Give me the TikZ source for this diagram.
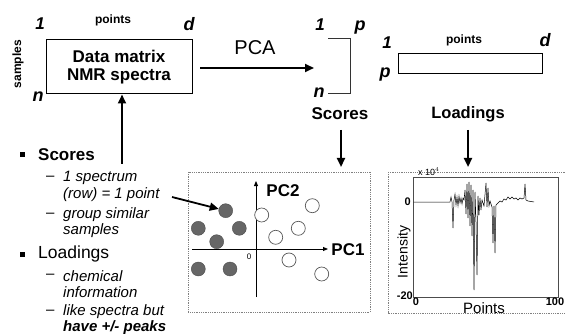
\documentclass[tikz,border=0pt]{standalone}
\usepackage{fontspec}
\setmainfont{Liberation Sans}
\usetikzlibrary{arrows.meta}
\newcommand\fsz[1]{\fontsize{#1}{#1}\selectfont}
\begin{document}
\begin{tikzpicture}[x=1pt,y=-1pt,
  lbl/.style={font=\fsz{18}\bfseries\itshape, inner sep=0},
  num/.style={font=\fsz{17}\bfseries\itshape, inner sep=0},
  big/.style={-{Triangle[length=9pt,width=8pt]}, line width=2.2pt},
  thinarr/.style={-{Triangle[length=5pt,width=4pt]}, line width=0.9pt},
  frame/.style={draw=gray, densely dotted, line width=0.8pt},
  filled/.style={circle, draw=black!70, fill=black!60, minimum size=14pt, inner sep=0},
  open/.style={circle, draw=black!65, fill=white, minimum size=14pt, inner sep=0, line width=0.7pt},
  sub/.style={font=\fsz{15}\itshape, inner sep=0, anchor=west},
  dashmark/.style={font=\fsz{15}, inner sep=0, anchor=west},
]
\useasboundingbox (0,0) rectangle (565,334);
% data matrix
\node[draw, line width=1pt, minimum width=146pt, minimum height=54pt, inner sep=0, align=center,
  font=\fsz{17}\bfseries] (dm) at (119,67) {Data matrix\\[1pt]NMR spectra};
\node[num] (d1) at (40,24) {1};
\node[font=\fsz{12}\bfseries, inner sep=0] (dpts) at (113,20) {points};
\node[lbl] (dd) at (189,24) {d};
\node[lbl] (dn) at (38,97) {n};
\node[font=\fsz{12}\bfseries, inner sep=0, rotate=90] (smp) at (18,64) {samples};
% PCA arrow
\coordinate (pa) at (200,68);
\coordinate (pb) at (314,68);
\draw[big] (pa) -- (pb);
\node[font=\fsz{20}, inner sep=0] (pca) at (255,48) {PCA};
% scores bracket
\coordinate (s1) at (328,39);
\coordinate (s2) at (350,39);
\coordinate (s3) at (350,94);
\coordinate (s4) at (328,94);
\draw[line width=1pt, black!80] (s1) -- (s2) -- (s3) -- (s4);
\node[num] (sc1) at (320,25) {1};
\node[lbl] (scp) at (360,28) {p};
\node[lbl] (scn) at (319,93) {n};
\node[font=\fsz{17}\bfseries, inner sep=0] (scores) at (340,114) {Scores};
% loadings box
\node[draw, line width=1pt, minimum width=144pt, minimum height=20pt, inner sep=0] (lb) at (470,64) {};
\node[num] (lb1) at (387,43) {1};
\node[font=\fsz{12}\bfseries, inner sep=0] (lpts) at (464,40) {points};
\node[lbl] (lbd) at (545,40) {d};
\node[lbl] (lbp) at (385,75) {p};
\node[font=\fsz{16.5}\bfseries, inner sep=0] (loads) at (468,114) {Loadings};
% down arrows
\coordinate (sa) at (341,130);
\coordinate (sb) at (341,167);
\draw[big] (sa) -- (sb);
\coordinate (la) at (468,130);
\coordinate (lbt) at (468,167);
\draw[big] (la) -- (lbt);
% up arrow
\coordinate (ua) at (122,164);
\draw[big] (ua) -- (dm.south -| ua);
% bullets
\node[fill=black, minimum size=5pt, inner sep=0] (b1) at (22,155) {};
\node[font=\fsz{17}\bfseries, inner sep=0, anchor=west] (bs) at (38,155) {Scores};
\node[dashmark] (d11) at (46,178) {--};
\node[sub] (t11) at (63,178) {1 spectrum};
\node[sub] (t12) at (63,195) {(row) = 1 point};
\node[dashmark] (d12) at (46,215) {--};
\node[sub] (t13) at (63,215) {group similar};
\node[sub] (t14) at (63,231) {samples};
\node[fill=black, minimum size=5pt, inner sep=0] (b2) at (22,254) {};
\node[font=\fsz{17.5}, inner sep=0, anchor=west] (bl) at (38,254) {Loadings};
\node[dashmark] (d21) at (46,276) {--};
\node[sub] (t21) at (63,276) {chemical};
\node[sub] (t22) at (63,292) {information};
\node[dashmark] (d22) at (46,312) {--};
\node[sub] (t23) at (63,312) {like spectra but};
\node[sub, font=\fsz{15}\bfseries\itshape] (t24) at (63,328) {have +/- peaks};
% scatter panel
\coordinate (sp1) at (188,172);
\coordinate (sp2) at (370,312);
\draw[frame] (sp1) rectangle (sp2);
\coordinate (ax1) at (256,297);
\coordinate (ax2) at (256,181);
\coordinate (ay1) at (192,249);
\coordinate (ay2) at (328,249);
\draw[thinarr] (ax1) -- (ax2);
\draw[thinarr] (ay1) -- (ay2);
\node[font=\fsz{17}\bfseries, inner sep=0] (pc2) at (283,191) {PC2};
\node[font=\fsz{17}\bfseries, inner sep=0] (pc1) at (348,250) {PC1};
\node[font=\fsz{8}, inner sep=0] (zero) at (249,257) {0};
\node[filled] (f1) at (225.7,210.7) {};
\node[filled] (f2) at (198.3,228.3) {};
\node[filled] (f3) at (239.3,228.3) {};
\node[filled] (f4) at (216.7,241.7) {};
\node[filled] (f5) at (198.3,269) {};
\node[filled] (f6) at (230,269) {};
\node[open] (o1) at (261.7,215) {};
\node[open] (o2) at (312.3,205.7) {};
\node[open] (o3) at (298.3,228.3) {};
\node[open] (o4) at (275.7,237.3) {};
\node[open] (o5) at (289,260) {};
\node[open] (o6) at (321.7,274) {};
\coordinate (pa1) at (172,197);
\draw[-{Triangle[length=9pt,width=8pt]}, line width=1.8pt] (pa1) -- (f1);
% loadings panel
\coordinate (lp1) at (388,172);
\coordinate (lp2) at (566,313);
\draw[frame] (lp1) rectangle (lp2);
\node[draw=black!70, line width=0.8pt, minimum width=145pt, minimum height=120pt, inner sep=0] (lplot) at (486,237.5) {};
\node[font=\fsz{9}, inner sep=0, anchor=west] (x10) at (418,172) {x 10$^{4}$};
\node[font=\fsz{11}\bfseries, inner sep=0, anchor=east] (y0) at (411,202) {0};
\node[font=\fsz{11}\bfseries, inner sep=0, anchor=east] (y20) at (413,296) {-20};
\node[font=\fsz{11}\bfseries, inner sep=0] (xx0) at (416,302) {0};
\node[font=\fsz{11}\bfseries, inner sep=0] (x100) at (555,302) {100};
\node[font=\fsz{15}, inner sep=0] (xpts) at (484,308) {Points};
\node[font=\fsz{14}, inner sep=0, rotate=90] (yint) at (404,252) {Intensity};
\draw[line width=0.5pt] (413.5,202) -- (450,202) -- (451,197) -- (452,202) -- (453,228) -- (454,200) -- (455,194) -- (456,205) -- (457,197) -- (458,206) -- (459,196) -- (460,203) -- (461,198) -- (462,204) -- (463,198) -- (464,200) -- (465,190) -- (466,214) -- (467,184) -- (468,218) -- (469,182) -- (470,226) -- (471,185) -- (472,236) -- (473,190) -- (474,290) -- (475,192) -- (476,222) -- (477,275) -- (478,196) -- (479,215) -- (480,198) -- (481,210) -- (482,200) -- (484,206) -- (486,183) -- (487,207) -- (488,188) -- (489,206) -- (490,201) -- (492,207) -- (493,243) -- (494,206) -- (495,253) -- (496,205) -- (498,203) -- (500,201) -- (502,202) -- (504,199) -- (506,200) -- (508,197) -- (510,199) -- (512,197) -- (514,199) -- (516,198) -- (518,200) -- (520,198) -- (522,199) -- (524,198) -- (525,184) -- (526,200) -- (528,201) -- (534,202);
\end{tikzpicture}
\end{document}
